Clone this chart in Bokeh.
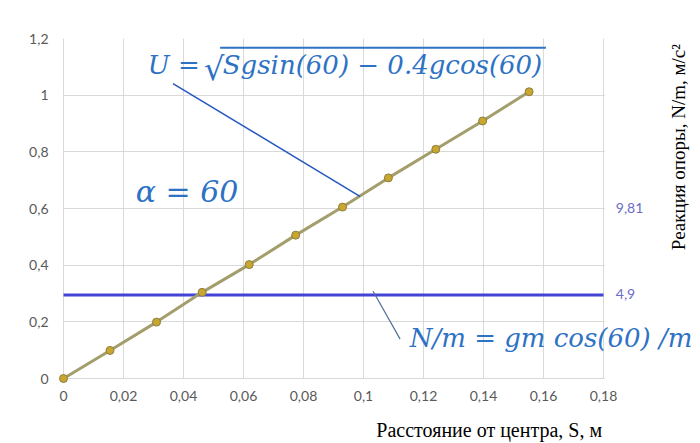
import math
from bokeh.plotting import figure
from bokeh.models import Range1d, LinearAxis, FixedTicker, Label, Arrow, BoxAnnotation
from bokeh.embed import file_html
from bokeh.resources import INLINE

# ---- data ----
S_VALUES = [0, 0.0155, 0.031, 0.0462, 0.0619, 0.0774, 0.093, 0.1083, 0.1241, 0.1397, 0.1552]
U_VALUES = [0, 0.099, 0.199, 0.304, 0.402, 0.506, 0.605, 0.708, 0.809, 0.909, 1.012]
NM_X = [0, 0.18]
NM_Y = [0.295, 0.295]
X_TICKS = [0, 0.02, 0.04, 0.06, 0.08, 0.1, 0.12, 0.14, 0.16, 0.18]
X_TICK_LABELS = ["0", "0,02", "0,04", "0,06", "0,08", "0,1", "0,12", "0,14", "0,16", "0,18"]
Y_TICKS = [0, 0.2, 0.4, 0.6, 0.8, 1.0, 1.2]
Y_TICK_LABELS = ["0", "0,2", "0,4", "0,6", "0,8", "1", "1,2"]
Y2_TICKS = [4.9, 9.81]
Y2_TICK_LABELS = ["4,9", "9,81"]
Y2_MAX = 19.6
X_TITLE = "Расстояние от центра, S, м"
Y_TITLE = "Реакция опоры, N/m, м/с²"
FORMULA_U_LEFT = "U ="
FORMULA_U_ROOT = "√"
FORMULA_U_RADICAND = "Sgsin(60) − 0.4gcos(60)"
FORMULA_ALPHA = "α = 60"
FORMULA_N = "N/m = gm cos(60) /m"

X_MIN, X_MAX = 0.0, 0.18   # the chart's x scale
Y_MIN, Y_MAX = 0.0, 1.2    # the chart's y scale
# the frame is a little larger than the scales so that the origin marker and the side texts are not clipped
X_VIEW = (-0.0016667, 0.21233)
Y_VIEW = (-0.017647, 1.2)

TICK_GRAY = "#595959"
GRID = "#D9D9D9"
BLUE_TEXT = "#2E72C4"

p = figure(frame_width=642, frame_height=345, output_backend="svg", toolbar_location=None,
           x_range=Range1d(*X_VIEW), y_range=Range1d(*Y_VIEW),
           min_border_left=58, min_border_right=0, min_border_top=38, min_border_bottom=60)
p.outline_line_color = None
p.background_fill_color = "white"
p.border_fill_color = "white"


def plain(ax):
    ax.axis_line_color = None
    ax.major_tick_line_color = None
    ax.minor_tick_line_color = None
    ax.major_tick_out = 0
    ax.major_tick_in = 0
    ax.minor_tick_out = 0
    ax.minor_tick_in = 0


for ax, ticks, labels in ((p.xaxis[0], X_TICKS, X_TICK_LABELS), (p.yaxis[0], Y_TICKS, Y_TICK_LABELS)):
    ax.ticker = FixedTicker(ticks=ticks)
    ax.major_label_overrides = {t: l for t, l in zip(ticks, labels)}
    plain(ax)
    ax.major_label_text_color = TICK_GRAY
    ax.major_label_text_font = "Lato"
    ax.major_label_text_font_size = "14px"
p.xaxis.major_label_standoff = 7
p.yaxis.major_label_standoff = 10

p.xgrid.ticker = FixedTicker(ticks=X_TICKS)
p.ygrid.ticker = FixedTicker(ticks=Y_TICKS)
p.grid.grid_line_color = GRID
p.grid.grid_line_width = 1
# blank the frame outside the chart's scales (grid lines stop at the plot area)
for box in (dict(left=X_MAX + 0.0004), dict(right=X_MIN - 0.00017), dict(top=Y_MIN - 0.0018)):
    p.add_layout(BoxAnnotation(level="underlay", fill_color="white", fill_alpha=1, line_color=None, **box))

# secondary scale on the right (values 9,81 / 4,9)
p.extra_y_ranges = {"r": Range1d(Y_VIEW[0] * Y2_MAX / Y_MAX, Y2_MAX)}

# lines
p.line(NM_X, NM_Y, line_color="#4343D6", line_width=3)
p.line(S_VALUES, U_VALUES, line_color="#A39E6C", line_width=3)
p.scatter(S_VALUES, U_VALUES, size=8, fill_color="#C9A62E", line_color="#8C7F44", line_width=1)

# annotation positions (data units)
ANN = dict(u_lead=(0.0365, 1.041, 0.0988, 0.643), n_lead=(0.1032, 0.308, 0.1122, 0.139),
           u_left=(0.0281, 1.106), u_root=(0.0468, 1.092), u_rad=(0.0531, 1.106), u_bar=(0.0522, 0.1608, 1.167),
           alpha_text=(0.0241, 0.661), n_text=(0.1154, 0.142),
           y2_x=0.1841, y_title=(0.2051, 0.453), x_title=(0.1419, 15))

x0, y0, x1, y1 = ANN["u_lead"]
p.add_layout(Arrow(end=None, x_start=x0, y_start=y0, x_end=x1, y_end=y1, line_color="#2457C0", line_width=1.5))
x0, y0, x1, y1 = ANN["n_lead"]
p.add_layout(Arrow(end=None, x_start=x0, y_start=y0, x_end=x1, y_end=y1, line_color="#4F6D99", line_width=1.2))
x0, x1, y0 = ANN["u_bar"]
p.add_layout(Arrow(end=None, x_start=x0, y_start=y0, x_end=x1, y_end=y0, line_color=BLUE_TEXT, line_width=2))


def lab(x, y, text, size, style="italic", font="DejaVu Serif", color=BLUE_TEXT, angle=0, y_range_name="default"):
    p.add_layout(Label(x=x, y=y, text=text, text_font=font, text_font_size=size, text_font_style=style,
                       text_color=color, text_baseline="middle", text_align="left", angle=angle,
                       y_range_name=y_range_name))


lab(*ANN["u_left"], FORMULA_U_LEFT, "26px")
lab(*ANN["u_root"], FORMULA_U_ROOT, "32px", style="normal")
lab(*ANN["u_rad"], FORMULA_U_RADICAND, "26px")
lab(*ANN["alpha_text"], FORMULA_ALPHA, "30px")
lab(*ANN["n_text"], FORMULA_N, "26px")
for t, l in zip(Y2_TICKS, Y2_TICK_LABELS):
    lab(ANN["y2_x"], t, l, "14px", style="normal", font="Lato", color="#6B6BC8", y_range_name="r")
lab(*ANN["y_title"], Y_TITLE, "19px", style="normal", font="Liberation Serif", color="black", angle=math.pi / 2)

# x title: a second axis below the first, with one labelled tick
tx, ts = ANN["x_title"]
ax_t = LinearAxis(ticker=FixedTicker(ticks=[tx]))
plain(ax_t)
ax_t.major_label_overrides = {tx: X_TITLE}
ax_t.major_label_text_font = "Liberation Serif"
ax_t.major_label_text_font_size = "20px"
ax_t.major_label_text_color = "black"
ax_t.major_label_standoff = ts
p.add_layout(ax_t, "below")

open("out.html", "w").write(file_html(p, INLINE))
